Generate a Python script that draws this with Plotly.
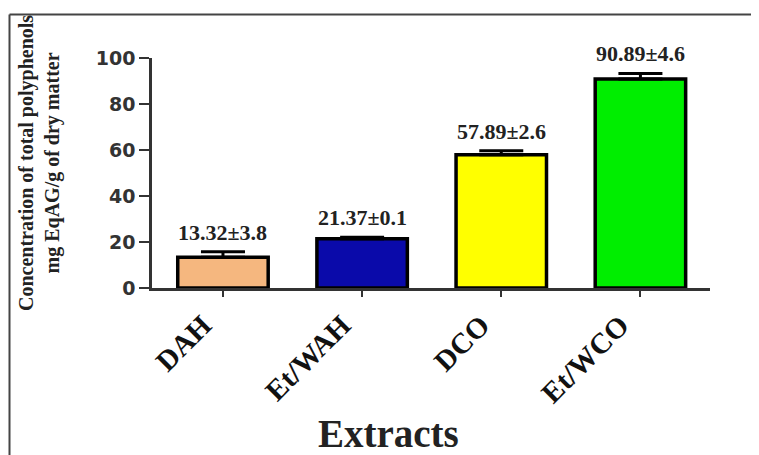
import plotly.graph_objects as go

categories = ["DAH", "Et/WAH", "DCO", "Et/WCO"]
values = [13.32, 21.37, 57.89, 90.89]
errors = [2.4, 0.7, 1.8, 2.4]
labels = ["13.32±3.8", "21.37±0.1", "57.89±2.6", "90.89±4.6"]
colors = ["#F5B77F", "#0A0AAA", "#FFFF00", "#00EE00"]
y_ticks = [0, 20, 40, 60, 80, 100]

# page body has an 8px margin; work in screen pixels and shift
OFF = 8
W, H = 759 - OFF, 455 - OFF
L, R, T, B = 152 - OFF, 710 - OFF, 58 - OFF, 288 - OFF  # plot area in figure pixels


def px_x(p):
    return (p - OFF - L) / (R - L)


def px_y(p):
    return (B - (p - OFF)) / (B - T)


serif = "Liberation Serif"

fig = go.Figure()
fig.add_trace(go.Bar(
    x=categories, y=values,
    marker=dict(color=colors, line=dict(color="black", width=3.5)),
    width=0.65,
    error_y=dict(type="data", array=errors, arrayminus=[0] * len(errors),
                 symmetric=False, visible=True, color="black",
                 thickness=3, width=22),
    showlegend=False,
))

for c, v, e, t in zip(categories, values, errors, labels):
    fig.add_annotation(x=c, y=v + e, text=t, showarrow=False, yanchor="bottom",
                       yshift=5, font=dict(family=serif, size=22,
                                           color="#222", weight="bold"))

fig.add_annotation(xref="paper", yref="paper", x=px_x(39), y=px_y(163),
                   xanchor="center", yanchor="middle",
                   text="Concentration of total polyphenols<br>mg EqAG/g of dry matter",
                   textangle=-90, showarrow=False,
                   font=dict(family=serif, size=20, color="#222", weight="bold"))
fig.add_annotation(xref="paper", yref="paper", x=px_x(388), y=px_y(433),
                   xanchor="center", yanchor="middle",
                   text="Extracts", showarrow=False,
                   font=dict(family=serif, size=39, color="#222", weight="bold"))

# outer frame (top and left lines)
fig.add_shape(type="line", xref="paper", yref="paper",
              x0=px_x(9.5), x1=px_x(759), y0=px_y(14.5), y1=px_y(14.5),
              line=dict(color="#444", width=2))
fig.add_shape(type="line", xref="paper", yref="paper",
              x0=px_x(9.5), x1=px_x(9.5), y0=px_y(14.5), y1=px_y(455),
              line=dict(color="#444", width=2))

fig.update_layout(
    width=W, height=H,
    margin=dict(l=L, r=W - R, t=T, b=H - B),
    plot_bgcolor="white", paper_bgcolor="white",
)
fig.update_xaxes(
    range=[-0.51, 3.5], showline=True, linecolor="#333", linewidth=2.5,
    ticks="outside", ticklen=6, tickwidth=2, tickcolor="#333",
    tickangle=-45, showgrid=False, automargin=False,
    ticklabelshift=-20, ticklabelstandoff=0,
    tickfont=dict(family=serif, size=29, color="#111", weight="bold"),
)
fig.update_yaxes(
    range=[0, 100], tickvals=y_ticks, showline=True, linecolor="#333", linewidth=2.5,
    ticks="outside", ticklen=10, tickwidth=2, tickcolor="#333", showgrid=False,
    zeroline=False, automargin=False,
    tickfont=dict(family="DejaVu Sans", size=19, color="#333", weight="bold"),
)

fig.write_html("out.html")
